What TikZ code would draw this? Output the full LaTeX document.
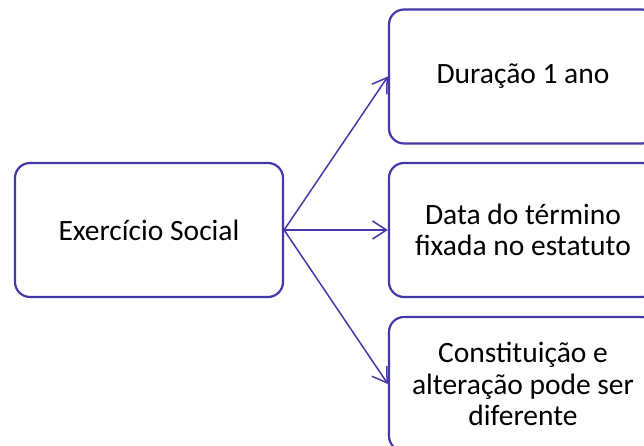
\documentclass[tikz,border=0pt]{standalone}
\usepackage{fontspec}
\setmainfont{Carlito}
\usetikzlibrary{arrows.meta,%
                positioning%
              }
\definecolor{roxo}{RGB}{66,56,168}
\def\ramos{{(523,76.5)/dur/Duração 1 ano},%
  {(523,230)/dat/Data do término\\fixada no estatuto},%
  {(523,384)/con/Constituição e\\alteração pode ser\\diferente}%
}

\begin{document}
\begin{tikzpicture}[x=1pt,y=-1pt,
    every node/.style={rectangle, rounded corners=15pt, draw=roxo,
      line width=2.2pt, minimum width=268pt, minimum height=134pt,
      align=center, font=\fontsize{29.5}{31.5}\selectfont},
    seta/.style={draw=roxo, line width=1.5pt,
      -{Straight Barb[length=14pt,width=18pt]}}]%

  \useasboundingbox (0,0) rectangle (644,446);

  \node (exe) at (149,230) {Exercício Social};

  \foreach \xy/\nome/\texto in \ramos {%
    \node (\nome) at \xy {\texto};
    \draw[seta] (exe.east) -- (\nome.west);
  }

\end{tikzpicture}
\end{document}
